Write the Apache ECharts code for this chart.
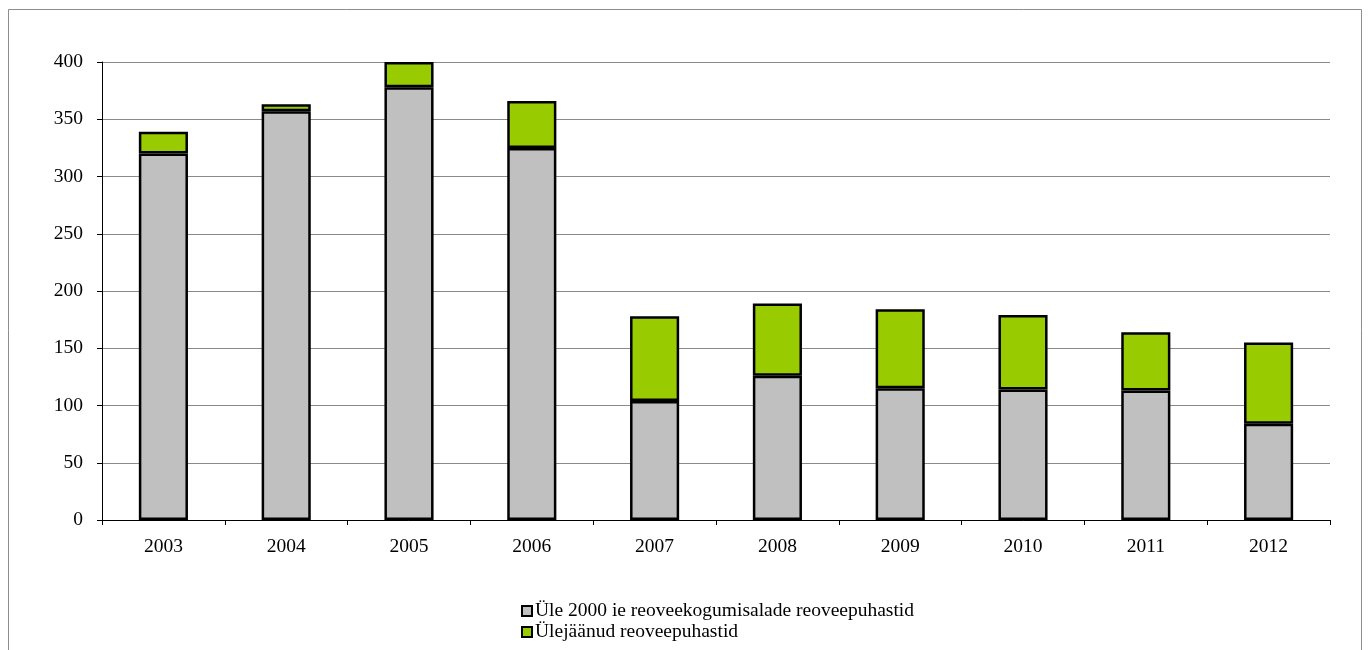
<!DOCTYPE html>
<html>
<head>
<meta charset="utf-8">
<script src="https://cdn.jsdelivr.net/npm/echarts@6/dist/echarts.min.js"></script>
<style>
  html, body { margin: 0; padding: 0; background: #fff; }
  #chart { width: 1370px; height: 650px; }
</style>
</head>
<body>
<div id="chart"></div>
<script>
// aastad
var years = ['2003', '2004', '2005', '2006', '2007', '2008', '2009', '2010', '2011', '2012']
// Üle 2000 ie reoveekogumisalade reoveepuhastid
var suured = [320, 357, 378, 325, 104, 126, 115, 114, 113, 84]
// Ülejäänud reoveepuhastid
var ylejaanud = [19, 6, 22, 41, 74, 63, 69, 65, 51, 71]
var seriesNames = ['Üle 2000 ie reoveekogumisalade reoveepuhastid', 'Ülejäänud reoveepuhastid']

var myChart = echarts.init(document.getElementById('chart'))
var font = 'Liberation Serif, Times New Roman, serif'

var option = {
  animation: false,
  textStyle: { fontFamily: font },
  graphic: [{
    type: 'rect',
    shape: { x: 8.5, y: 9.5, width: 1353, height: 700 },
    style: { fill: 'none', stroke: '#8c8c8c', lineWidth: 1 },
    silent: true
  }],
  grid: { left: 102, right: 40, top: 62, bottom: 130 },
  legend: {
    orient: 'vertical',
    left: 521,
    top: 601,
    height: 49,
    padding: 0,
    itemWidth: 10,
    itemHeight: 10,
    itemGap: 1,
    icon: 'rect',
    textStyle: { fontFamily: font, fontSize: 19.5, color: '#000', padding: [0, 0, 0, -2] },
    data: seriesNames
  },
  xAxis: {
    type: 'category',
    data: years,
    axisLine: { lineStyle: { color: '#000', width: 1 } },
    axisTick: { show: true, interval: 0, length: 5, lineStyle: { color: '#000' } },
    axisLabel: { color: '#000', fontSize: 19.5, fontFamily: font, margin: 17 }
  },
  yAxis: {
    type: 'value',
    min: 0,
    max: 400,
    interval: 50,
    axisLine: { show: true, lineStyle: { color: '#000', width: 1 } },
    axisTick: { show: true, length: 5, lineStyle: { color: '#000' } },
    axisLabel: { color: '#000', fontSize: 19.5, fontFamily: font, margin: 19 },
    splitLine: { lineStyle: { color: '#8a8a8a', width: 1 } }
  },
  series: [
    {
      name: seriesNames[0],
      type: 'bar',
      stack: 'kokku',
      barWidth: '40%',
      data: suured,
      itemStyle: { color: '#c0c0c0', borderColor: '#000', borderWidth: 2.5 }
    },
    {
      name: seriesNames[1],
      type: 'bar',
      stack: 'kokku',
      data: ylejaanud,
      itemStyle: { color: '#99cc00', borderColor: '#000', borderWidth: 2.5 }
    }
  ]
}

myChart.setOption(option)
</script>
</body>
</html>
